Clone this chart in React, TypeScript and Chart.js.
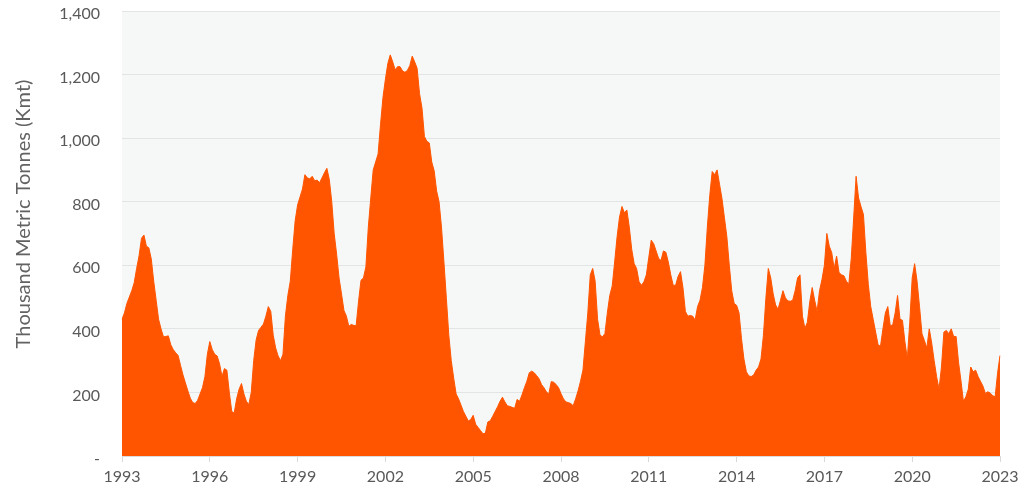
import React, { useEffect, useRef } from "react";
import { Chart, registerables } from "chart.js";

Chart.register(...registerables);

const startYear = 1993;
const tickYears = [1993, 1996, 1999, 2002, 2005, 2008, 2011, 2014, 2017, 2020, 2023];
const yAxisTitle = "Thousand Metric Tonnes (Kmt)";

// Monthly values, Jan 1993 .. Jan 2023 (thousand metric tonnes)
const values1993to2000 = [
  430, 450, 480, 500, 520, 545, 590, 630, 685, 695, 660, 655,
  620, 550, 490, 430, 400, 375, 376, 378, 350, 335, 325, 316,
  285, 255, 230, 205, 182, 168, 165, 175, 195, 215, 250, 320,
  360, 335, 320, 315, 290, 250, 275, 270, 200, 140, 135, 180,
  210, 228, 195, 172, 162, 200, 300, 365, 395, 405, 415, 440,
  470, 455, 380, 340, 315, 300, 320, 440, 505, 550, 650, 740,
  790, 815, 840, 885, 875, 872, 880, 866, 868, 860, 875, 891,
  905, 870, 800, 700, 635, 560, 510, 458, 440, 408, 414, 411,
];
const values2001to2007 = [
  410, 487, 553, 560, 595, 720, 812, 900, 925, 950, 1043, 1128,
  1185, 1235, 1262, 1240, 1215, 1225, 1225, 1212, 1207, 1213, 1228, 1258,
  1240, 1220, 1140, 1095, 1005, 990, 985, 925, 897, 834, 800, 720,
  610, 496, 380, 300, 245, 195, 180, 160, 140, 125, 110, 115,
  128, 100, 90, 80, 70, 72, 107, 111, 125, 140, 155, 172,
  185, 170, 158, 156, 153, 150, 178, 172, 192, 215, 235, 262,
  267, 262, 253, 243, 225, 215, 202, 195, 234, 232, 225, 215,
];
const values2008to2015 = [
  196, 180, 170, 168, 165, 158, 180, 205, 235, 270, 360, 450, 570,
  590, 550, 430, 380, 375, 385, 450, 505, 535, 610, 690, 752,
  785, 765, 774, 720, 650, 605, 590, 548, 537, 548, 570, 625,
  679, 668, 645, 622, 615, 645, 641, 610, 570, 537, 537, 565,
  580, 530, 455, 440, 442, 440, 428, 470, 490, 530, 600, 720,
  820, 895, 885, 900, 855, 810, 750, 690, 600, 520, 480, 474,
  450, 370, 305, 265, 252, 250, 255, 270, 280, 305, 380, 496,
  590, 560, 510, 475, 462, 490, 520, 498, 488, 487, 490, 520,
];
const values2016to2023 = [
  560, 570, 440, 402, 420, 485, 530, 490, 455, 520, 555, 600,
  700, 660, 640, 590, 629, 577, 570, 567, 550, 540, 620, 749,
  880, 812, 785, 760, 640, 540, 470, 430, 390, 350, 345, 400,
  450, 470, 410, 412, 450, 505, 430, 427, 360, 306, 420, 560,
  605, 550, 470, 385, 363, 340, 400, 355, 300, 250, 210, 280,
  390, 395, 385, 400, 376, 376, 295, 236, 172, 186, 210, 280,
  265, 270, 250, 235, 220, 197, 202, 198, 190, 186, 260, 316,
];

const values = [...values1993to2000, ...values2001to2007, ...values2008to2015, ...values2016to2023];
const monthLabels = values.map(
  (_, i) => `${startYear + Math.floor(i / 12)}-${String((i % 12) + 1).padStart(2, "0")}`
);

const FONT = "Lato, 'Open Sans', sans-serif";

const plotBackground = {
  id: "plotBackground",
  beforeDraw(chart: any) {
    const { ctx, chartArea } = chart;
    if (!chartArea) return;
    ctx.save();
    ctx.fillStyle = "#f6f7f7";
    ctx.fillRect(chartArea.left, chartArea.top, chartArea.right - chartArea.left, chartArea.bottom - chartArea.top);
    ctx.restore();
  },
};

const yTitlePlugin = {
  id: "yTitlePlugin",
  afterDraw(chart: any) {
    const { ctx } = chart;
    ctx.save();
    ctx.translate(24, 214);
    ctx.rotate(-Math.PI / 2);
    ctx.textAlign = "center";
    ctx.textBaseline = "middle";
    ctx.font = `20px ${FONT}`;
    ctx.fillStyle = "#626262";
    ctx.fillText(yAxisTitle, 0, 0);
    ctx.restore();
  },
};

export default function App() {
  const canvasRef = useRef<HTMLCanvasElement | null>(null);

  useEffect(() => {
    if (!canvasRef.current) return;
    const chart = new Chart(canvasRef.current, {
      type: "line",
      data: {
        labels: monthLabels,
        datasets: [
          {
            data: values,
            fill: "origin",
            backgroundColor: "#ff5500",
            borderColor: "#ff5500",
            borderWidth: 1,
            pointRadius: 0,
            tension: 0,
          },
        ],
      },
      options: {
        animation: false,
        responsive: false,
        events: [],
        layout: { padding: { left: 0, right: 33, top: 11, bottom: 0 } },
        plugins: { legend: { display: false }, tooltip: { enabled: false } },
        scales: {
          x: {
            type: "category",
            offset: false,
            grid: { drawOnChartArea: false, drawTicks: true, tickLength: 6, color: "#d9d9d9" },
            border: { display: true, color: "#dcdcdc" },
            ticks: {
              autoSkip: false,
              maxRotation: 0,
              minRotation: 0,
              padding: 5,
              color: "#595959",
              font: { family: FONT, size: 16 },
              callback: (_v: any, i: number) => {
                const y = startYear + Math.floor(i / 12);
                return i % 12 === 0 && tickYears.includes(y) ? String(y) : null;
              },
            },
            afterFit: (s: any) => {
              s.height = 35;
            },
          },
          y: {
            min: 0,
            max: 1400,
            ticks: {
              stepSize: 200,
              padding: 22,
              labelOffset: 3,
              color: "#595959",
              font: { family: FONT, size: 16 },
              callback: (v: any) => (v === 0 ? "-" : Number(v).toLocaleString("en-US")),
            },
            grid: { color: "#e3e4e4", drawTicks: false },
            border: { display: false },
            title: { display: false, text: yAxisTitle },
            afterFit: (s: any) => {
              s.width = 122;
              s.paddingTop = 0;
              s.paddingBottom = 0;
            },
          },
        },
      },
      plugins: [plotBackground, yTitlePlugin],
    });
    return () => chart.destroy();
  }, []);

  return (
    <div style={{ position: "fixed", left: 0, top: 0, width: 1033, height: 491, background: "#fff" }}>
      <canvas ref={canvasRef} width={1033} height={491} style={{ display: "block" }} />
    </div>
  );
}
